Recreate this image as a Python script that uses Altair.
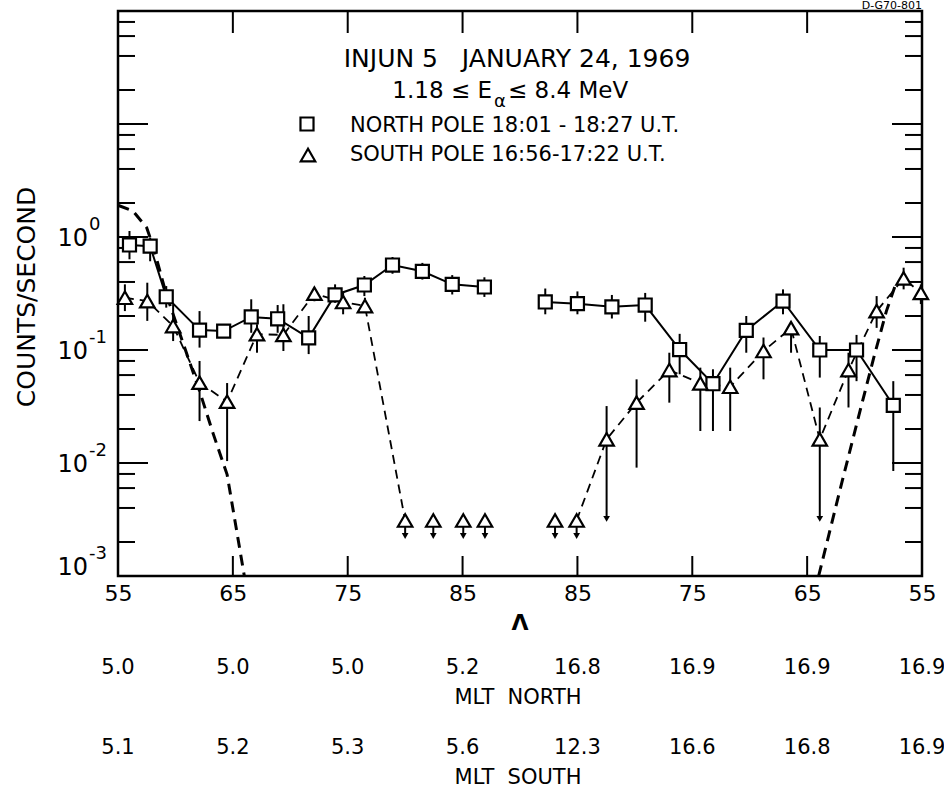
import json
import altair as alt
import pandas as pd

FONT = "DejaVu Sans"
W, H = 804, 565  # plot area
GAP = "\u00a0\u00a0"  # kept as two visible spaces in SVG text

# ---------------- data ----------------
# Λ axis: poleward leg on the left, return leg on the right (track coordinate 0..70)
TICK_T = [0, 10, 20, 30, 40, 50, 60, 70]
TICK_LAT = ["55", "65", "75", "85", "85", "75", "65", "55"]
MLT_NORTH = ["5.0", "5.0", "5.0", "5.2", "16.8", "16.9", "16.9", "16.9"]
MLT_SOUTH = ["5.1", "5.2", "5.3", "5.6", "12.3", "16.6", "16.8", "16.9"]

# North pole pass (squares)
N_IN_LAT = [56.0, 57.8, 59.2, 62.1, 64.2, 66.6, 68.9, 71.6, 73.9, 76.45, 78.9, 81.5, 84.1, 86.9]
N_IN_VAL = [0.85, 0.83, 0.296, 0.150, 0.147, 0.196, 0.189, 0.128, 0.307, 0.376, 0.565, 0.497, 0.381, 0.361]
N_IN_LO = [0.635, 0.61, 0.237, 0.105, 0.135, 0.142, 0.142, 0.092, 0.262, 0.30, 0.473, 0.42, 0.31, 0.295]
N_IN_HI = [1.13, 0.99, 0.368, 0.221, 0.16, 0.281, 0.25, 0.20, 0.381, 0.452, 0.665, 0.59, 0.46, 0.44]
N_OUT_LAT = [87.8, 85.0, 82.0, 79.1, 76.1, 73.2, 70.3, 67.1, 63.9, 60.7, 57.5]
N_OUT_VAL = [0.266, 0.257, 0.241, 0.250, 0.101, 0.0503, 0.149, 0.271, 0.100, 0.100, 0.0324]
N_OUT_LO = [0.207, 0.207, 0.19, 0.178, 0.061, 0.0192, 0.0946, 0.207, 0.057, 0.053, 0.0085]
N_OUT_HI = [0.35, 0.33, 0.307, 0.32, 0.139, 0.0675, 0.20, 0.344, 0.133, 0.136, 0.053]

# South pole pass (triangles)
S_IN_LAT = [55.6, 57.55, 59.8, 62.1, 64.5, 67.1, 69.4, 72.1, 74.6, 76.5]
S_IN_VAL = [0.29, 0.271, 0.163, 0.0514, 0.0349, 0.138, 0.136, 0.315, 0.266, 0.245]
S_IN_LO = [0.221, 0.181, 0.12, 0.0235, 0.0104, 0.0946, 0.098, 0.27, 0.207, 0.22]
S_IN_HI = [0.381, 0.394, 0.254, 0.08, 0.051, 0.169, 0.254, 0.355, 0.33, 0.29]
S_OUT_LAT = [82.46, 79.85, 77.0, 74.3, 71.7, 68.8, 66.4, 63.9, 61.4, 58.95, 56.6, 55.1]
S_OUT_VAL = [0.0162, 0.0342, 0.0665, 0.0507, 0.0473, 0.098, 0.156, 0.0162, 0.0665, 0.221, 0.43, 0.32]
S_OUT_LO = [0.0032, 0.0091, 0.0342, 0.0192, 0.0192, 0.055, 0.0946, 0.0032, 0.031, 0.157, 0.344, 0.255]
S_OUT_HI = [0.0319, 0.055, 0.0946, 0.0698, 0.0698, 0.129, 0.175, 0.031, 0.0946, 0.30, 0.535, 0.38]
S_OUT_ARROW = [True, False, False, False, False, False, False, True, False, False, False, False]

# South pass upper limits (triangles with arrows)
S_LIM_IN_LAT = [80.0, 82.45, 85.06, 86.95]
S_LIM_OUT_LAT = [86.95, 85.07]
S_LIM_VAL = [0.0031]
S_LIM_ARROW = [0.00226]

# Fitted curves (thick dashed)
FIT_IN_LAT = [55.05, 56.3, 57.5, 58.1, 59.2, 60.4, 62.1, 63.3, 64.5, 66.0]
FIT_IN_VAL = [1.9, 1.70, 1.21, 0.80, 0.311, 0.138, 0.0434, 0.018, 0.0079, 0.001]
FIT_OUT_LAT = [64.0, 62.1, 60.4, 59.2, 58.1, 57.3]
FIT_OUT_VAL = [0.001, 0.006, 0.0288, 0.0855, 0.221, 0.38]


def track(lat, leg):
    return [(v - 55.0) if leg == "in" else (125.0 - v) for v in lat]


def frame(lat, val, leg, lo=None, hi=None):
    d = pd.DataFrame({"t": track(lat, leg), "val": val, "leg": leg})
    if lo is not None:
        d["lo"] = lo
        d["hi"] = hi
    return d


north = pd.concat([
    frame(N_IN_LAT, N_IN_VAL, "in", N_IN_LO, N_IN_HI),
    frame(N_OUT_LAT, N_OUT_VAL, "out", N_OUT_LO, N_OUT_HI),
], ignore_index=True)

s_in = frame(S_IN_LAT, S_IN_VAL, "in", S_IN_LO, S_IN_HI)
s_in["arrow"] = False
s_out = frame(S_OUT_LAT, S_OUT_VAL, "out", S_OUT_LO, S_OUT_HI)
s_out["arrow"] = S_OUT_ARROW
south = pd.concat([s_in, s_out], ignore_index=True)

limits = pd.concat([
    frame(S_LIM_IN_LAT, S_LIM_VAL * len(S_LIM_IN_LAT), "in"),
    frame(S_LIM_OUT_LAT, S_LIM_VAL * len(S_LIM_OUT_LAT), "out"),
], ignore_index=True)
limits["arrow"] = S_LIM_ARROW[0]

# dashed connector of the south pass reaches the first / last upper limit
south_line = pd.concat([
    south[["t", "val", "leg"]],
    frame(S_LIM_IN_LAT[:1], S_LIM_VAL, "in"),
    frame(S_LIM_OUT_LAT[-1:], S_LIM_VAL, "out"),
], ignore_index=True)

fits = pd.concat([
    frame(FIT_IN_LAT, FIT_IN_VAL, "in"),
    frame(FIT_OUT_LAT, FIT_OUT_VAL, "out"),
], ignore_index=True)

tick_major = [1e-2, 1e-1, 1e0, 1e1]
tick_minor = [m * 10.0 ** e for e in range(-3, 2) for m in (2, 4, 6, 8)]
yticks = pd.DataFrame({"v": tick_major + tick_minor,
                       "kind": ["major"] * len(tick_major) + ["minor"] * len(tick_minor)})
xticks = pd.DataFrame({"t": TICK_T[1:-1]})

ylabels = pd.DataFrame({"v": [1.0, 0.1, 0.01, 0.001], "exp": ["0", "-1", "-2", "-3"]})
mlt = pd.DataFrame({"t": TICK_T, "north": MLT_NORTH, "south": MLT_SOUTH})
ONE = pd.DataFrame({"k": [0]})

# ---------------- scales ----------------
XS = alt.Scale(domain=[0, 70], nice=False, zero=False)
YS = alt.Scale(type="log", domain=[1e-3, 1e2], nice=False)
XAX = alt.Axis(values=TICK_T, labelExpr=f"{json.dumps(TICK_LAT)}[round(datum.value / 10)]",
               tickSize=0, domain=False, grid=False, labelFont=FONT, labelFontSize=22,
               labelColor="black", labelPadding=7, labelFlush=False, title=None)


def X():
    return alt.X("t:Q", scale=XS, axis=XAX)


def Y(f):
    return alt.Y(f"{f}:Q", scale=YS, axis=None)


K = "black"
layers = []

# inward ticks on the frame
for kind, ln in (("major", 30), ("minor", 17)):
    base = alt.Chart(yticks).transform_filter(f"datum.kind == '{kind}'").mark_rule(color=K, strokeWidth=2)
    layers.append(base.encode(x=alt.value(0), x2=alt.value(ln), y=Y("v")))
    layers.append(base.encode(x=alt.value(W), x2=alt.value(W - ln), y=Y("v")))
xt = alt.Chart(xticks).mark_rule(color=K, strokeWidth=2)
layers.append(xt.encode(x=X(), y=alt.value(0), y2=alt.value(22)))
layers.append(xt.encode(x=X(), y=alt.value(H), y2=alt.value(H - 20)))

# fitted curves
layers.append(alt.Chart(fits).mark_line(color=K, strokeWidth=3, strokeDash=[11, 7], clip=True)
              .encode(x=X(), y=Y("val"), detail="leg:N", order="t:Q"))

# connecting lines
layers.append(alt.Chart(north).mark_line(color=K, strokeWidth=2)
              .encode(x=X(), y=Y("val"), detail="leg:N", order="t:Q"))
layers.append(alt.Chart(south_line).mark_line(color=K, strokeWidth=1.8, strokeDash=[9, 6])
              .encode(x=X(), y=Y("val"), detail="leg:N", order="t:Q"))

# error bars
layers.append(alt.Chart(north).mark_rule(color=K, strokeWidth=2)
              .encode(x=X(), y=Y("lo"), y2="hi:Q"))
layers.append(alt.Chart(south).mark_rule(color=K, strokeWidth=2)
              .encode(x=X(), y=Y("lo"), y2="hi:Q"))
layers.append(alt.Chart(limits).mark_rule(color=K, strokeWidth=2)
              .encode(x=X(), y=Y("arrow"), y2="val:Q"))

# arrowheads
layers.append(alt.Chart(limits).mark_point(shape="triangle-down", filled=True, color=K, size=45, opacity=1)
              .encode(x=X(), y=Y("arrow")))
layers.append(alt.Chart(south).transform_filter("datum.arrow").mark_point(
    shape="triangle-down", filled=True, color=K, size=45, opacity=1).encode(x=X(), y=Y("lo")))

# markers
sq = dict(shape="square", filled=True, fill="white", stroke=K, strokeWidth=2.2, size=170, opacity=1)
tri = dict(shape="triangle-up", filled=True, fill="white", stroke=K, strokeWidth=2.2, size=210, opacity=1)
layers.append(alt.Chart(north).mark_point(**sq).encode(x=X(), y=Y("val")))
layers.append(alt.Chart(south).mark_point(**tri).encode(x=X(), y=Y("val")))
layers.append(alt.Chart(limits).mark_point(**tri).encode(x=X(), y=Y("val")))

# y-axis labels 10^n
ylab_main = alt.Chart(ylabels).transform_filter("datum.v > 0.005")
ylab_low = alt.Chart(ylabels).transform_filter("datum.v < 0.005")
for src, shift in ((ylab_main, 2), (ylab_low, -8)):
    layers.append(src.mark_text(font=FONT, fontSize=24, align="right", baseline="middle", dy=shift, color=K)
                  .encode(x=alt.value(-30), y=Y("v"), text=alt.value("10")))
    layers.append(src.mark_text(font=FONT, fontSize=18, align="left", baseline="middle", dy=shift - 14, color=K)
                  .encode(x=alt.value(-29), y=Y("v"), text="exp:N"))


def label(txt, x, y, size, align="center", angle=None, weight="normal"):
    kw = dict(font=FONT, fontSize=size, align=align, baseline="middle", color=K, fontWeight=weight)
    if angle is not None:
        kw["angle"] = angle
    return alt.Chart(ONE).mark_text(**kw).encode(x=alt.value(x), y=alt.value(y), text=alt.value(txt))


# titles and legend
layers.append(label(f"INJUN 5{GAP} JANUARY 24, 1969", 399, 48, 25))
layers.append(label("1.18 \u2264 E", 374, 80, 23, align="right"))
layers.append(label("\u03b1", 376, 91, 18, align="left"))
layers.append(label("\u2264 8.4 MeV", 390, 80, 23, align="left"))
layers.append(alt.Chart(ONE).mark_point(**sq).encode(x=alt.value(189), y=alt.value(113)))
layers.append(alt.Chart(ONE).mark_point(**tri).encode(x=alt.value(190), y=alt.value(144)))
layers.append(label("NORTH POLE 18:01 - 18:27 U.T.", 232, 115, 21, align="left"))
layers.append(label("SOUTH POLE 16:56-17:22 U.T.", 232, 144, 21, align="left"))
layers.append(label("D-G70-801", 804, -5, 11, align="right"))

# axis title and MLT rows
layers.append(label("COUNTS/SECOND", -91, 286, 25, angle=270))
layers.append(label("\u039b", 402, 612, 22, weight="bold"))
layers.append(alt.Chart(mlt).mark_text(font=FONT, fontSize=21, baseline="middle", color=K)
              .encode(x=X(), y=alt.value(657), text="north:N"))
layers.append(label(f"MLT{GAP}NORTH", 400, 687, 21))
layers.append(alt.Chart(mlt).mark_text(font=FONT, fontSize=21, baseline="middle", color=K)
              .encode(x=X(), y=alt.value(737), text="south:N"))
layers.append(label(f"MLT{GAP}SOUTH", 400, 767, 21))

chart = alt.layer(*layers).properties(
    width=W, height=H,
    autosize=alt.AutoSizeParams(type="none"),
    padding={"left": 118, "top": 11, "right": 22, "bottom": 233},
    background="white",
).configure_view(stroke=K, strokeWidth=2.5)

chart.save("out.html", embed_options={"renderer": "svg", "actions": False})
